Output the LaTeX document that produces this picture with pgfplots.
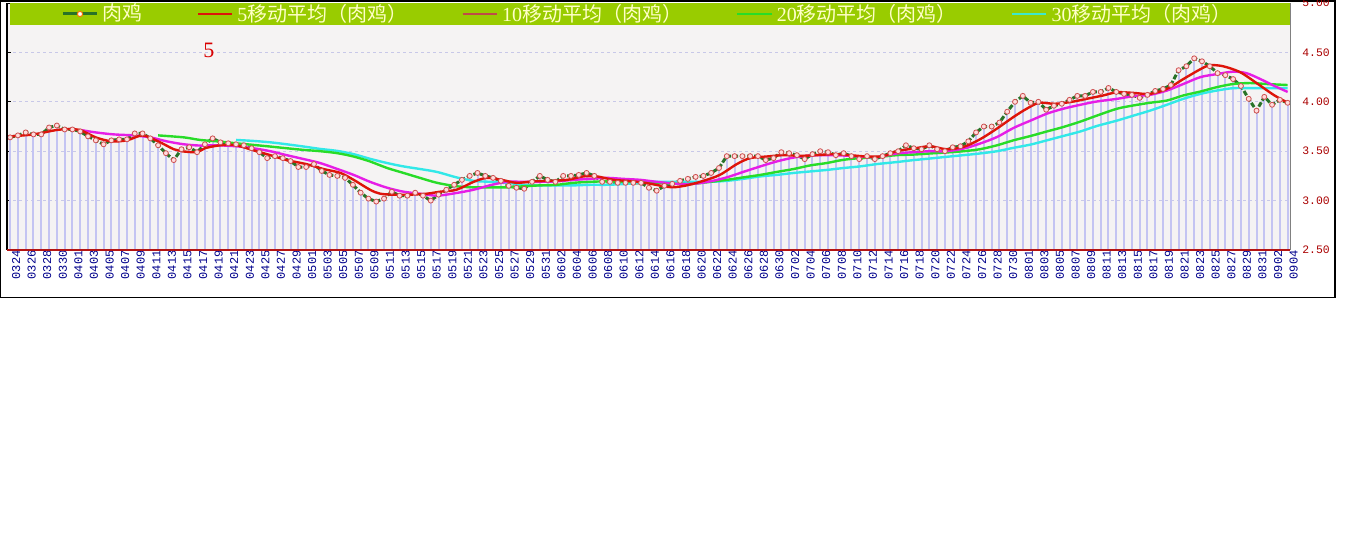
\documentclass[border=0pt]{standalone}
\usepackage{fontspec}
\setmainfont{Liberation Serif}
\setmonofont{Liberation Mono}
\newfontfamily\cjk{Noto Sans CJK SC}
\usepackage{pgfplots}
\pgfplotsset{compat=1.18}
\usepackage{pgfplotstable}

\definecolor{paper}{RGB}{245,243,243}
\definecolor{barc}{RGB}{196,196,242}
\definecolor{gridc}{RGB}{200,200,232}
\definecolor{pricegreen}{RGB}{40,115,40}
\definecolor{markfill}{RGB}{255,220,220}
\definecolor{markdraw}{RGB}{205,80,80}
\definecolor{mafive}{RGB}{222,20,10}
\definecolor{maten}{RGB}{230,30,230}
\definecolor{matwenty}{RGB}{40,220,40}
\definecolor{mathirty}{RGB}{50,232,232}
\definecolor{legband}{RGB}{153,204,0}
\definecolor{legtext}{RGB}{255,255,200}
\definecolor{legten}{RGB}{190,75,72}
\definecolor{legthirty}{RGB}{60,232,205}
\definecolor{ylab}{RGB}{170,0,0}
\definecolor{xlab}{RGB}{0,0,140}
\definecolor{tickred}{RGB}{180,20,20}

% daily price, index 0 = 0324
\pgfplotstableread{
i p
0 3.64
1 3.66
2 3.69
3 3.67
4 3.67
5 3.74
6 3.76
7 3.72
8 3.72
9 3.70
10 3.65
11 3.61
12 3.57
13 3.61
14 3.62
15 3.62
16 3.68
17 3.68
18 3.63
19 3.56
20 3.48
21 3.41
22 3.52
23 3.54
24 3.49
25 3.57
26 3.63
27 3.59
28 3.58
29 3.57
30 3.56
31 3.53
32 3.49
33 3.43
34 3.45
35 3.43
36 3.40
37 3.34
38 3.34
39 3.37
40 3.30
41 3.26
42 3.25
43 3.23
44 3.16
45 3.08
46 3.02
47 2.99
48 3.02
49 3.09
50 3.05
51 3.05
52 3.08
53 3.05
54 3.00
55 3.06
56 3.11
57 3.16
58 3.21
59 3.25
60 3.28
61 3.25
62 3.23
63 3.20
64 3.15
65 3.13
66 3.12
67 3.19
68 3.25
69 3.21
70 3.19
71 3.25
72 3.25
73 3.26
74 3.28
75 3.25
76 3.19
77 3.19
78 3.18
79 3.18
80 3.18
81 3.18
82 3.13
83 3.10
84 3.15
85 3.17
86 3.20
87 3.22
88 3.24
89 3.25
90 3.28
91 3.33
92 3.45
93 3.45
94 3.45
95 3.45
96 3.45
97 3.41
98 3.43
99 3.49
100 3.48
101 3.46
102 3.42
103 3.47
104 3.50
105 3.49
106 3.46
107 3.48
108 3.45
109 3.42
110 3.45
111 3.42
112 3.45
113 3.48
114 3.50
115 3.56
116 3.53
117 3.52
118 3.56
119 3.52
120 3.50
121 3.54
122 3.55
123 3.60
124 3.69
125 3.75
126 3.75
127 3.79
128 3.90
129 4.00
130 4.06
131 3.99
132 4.00
133 3.92
134 3.96
135 3.98
136 4.02
137 4.06
138 4.06
139 4.10
140 4.10
141 4.14
142 4.10
143 4.08
144 4.07
145 4.04
146 4.07
147 4.11
148 4.13
149 4.17
150 4.32
151 4.36
152 4.44
153 4.41
154 4.36
155 4.29
156 4.27
157 4.23
158 4.16
159 4.03
160 3.91
161 4.05
162 3.97
163 4.02
164 3.99
}\price

% moving averages
\pgfplotstableread{
i v
0 3.65
3 3.67
6 3.715
8 3.725
9 3.715
11 3.64
13 3.60
15 3.61
17 3.66
19 3.60
21 3.52
22 3.50
24 3.49
25 3.53
27 3.56
29 3.56
31.2 3.51
33.4 3.46
35.5 3.41
38 3.37
40.2 3.32
42.4 3.28
44.1 3.21
46.2 3.11
47.5 3.07
49.2 3.06
51.3 3.06
53.5 3.07
55.2 3.09
57.3 3.11
59.5 3.19
61.2 3.23
63.1 3.21
65 3.18
67.2 3.195
69.3 3.20
71.5 3.21
73.6 3.245
75.3 3.245
77.5 3.21
80 3.195
82.2 3.17
83.9 3.145
85.2 3.135
86.9 3.155
89 3.20
91.1 3.26
93.3 3.37
95 3.43
97.1 3.446
99.3 3.46
101.4 3.453
103.5 3.46
105.7 3.47
107.8 3.46
110 3.446
112.1 3.45
113.8 3.50
116 3.527
118.1 3.55
120.2 3.52
122.4 3.544
124.5 3.62
126.7 3.73
128.8 3.846
130.5 3.93
132.1 3.99
134.1 3.98
136.3 4.00
138.2 4.03
140.3 4.064
142.1 4.097
144.2 4.09
146.3 4.08
148.5 4.13
150.6 4.23
152.8 4.33
154.0 4.37
155.7 4.36
157.9 4.30
160 4.19
162.2 4.07
164 3.99
}\mafivet

\pgfplotstableread{
i v
9 3.715
11 3.69
13.3 3.67
15.8 3.66
18 3.64
20.1 3.60
22.3 3.57
24.4 3.557
26.5 3.56
29 3.55
31.2 3.53
33.4 3.50
35.5 3.46
37.7 3.42
39.8 3.38
42 3.32
44.1 3.26
46.2 3.19
48.4 3.13
50.5 3.09
52.6 3.07
54.8 3.05
57.3 3.077
59.5 3.11
61.6 3.155
63.8 3.19
65.9 3.19
68 3.19
70.2 3.195
72.3 3.21
74.5 3.22
76.6 3.23
78.7 3.22
80.9 3.21
83 3.19
85.6 3.17
87.7 3.17
89.9 3.195
92 3.235
94.1 3.29
96.3 3.346
98.4 3.396
100.6 3.436
102.7 3.456
104.8 3.46
107 3.456
109.1 3.446
111.3 3.44
113.8 3.477
116 3.49
118.1 3.50
120.2 3.50
122.4 3.527
124.5 3.577
126.7 3.644
128.8 3.735
131 3.81
133.1 3.88
135.2 3.93
137.4 3.97
139.5 4.003
142.1 4.03
144.2 4.057
146.3 4.07
148.5 4.114
150.6 4.18
152.8 4.25
154.9 4.28
157 4.305
158.7 4.29
160.5 4.23
162.2 4.164
164 4.10
}\matent

\pgfplotstableread{
i v
19 3.66
22.3 3.64
24.4 3.614
27 3.597
29 3.58
31.2 3.564
33.4 3.547
35.5 3.53
37.7 3.513
39.8 3.50
42 3.48
44.1 3.446
46.2 3.396
48.4 3.33
50.5 3.28
52.6 3.23
54.8 3.18
57.3 3.145
59.5 3.134
61.6 3.134
63.8 3.134
65.9 3.145
68 3.154
70.2 3.16
72.3 3.18
74.5 3.19
76.6 3.195
78.7 3.19
80.9 3.19
83 3.18
85.6 3.17
87.7 3.17
89.9 3.19
92 3.21
94.1 3.235
96.3 3.26
98.4 3.29
100.6 3.32
102.7 3.356
104.8 3.38
107 3.413
109.1 3.43
111.3 3.44
113.8 3.46
116 3.466
118.1 3.477
120.2 3.487
122.4 3.50
124.5 3.52
126.7 3.56
128.8 3.61
131 3.654
133.1 3.70
135.2 3.745
137.4 3.80
139.5 3.86
142.1 3.93
144.2 3.963
146.3 3.99
148.5 4.013
150.6 4.064
152.8 4.104
154.9 4.148
157 4.18
159.2 4.19
161.3 4.18
164 4.17
}\matwentyt

\pgfplotstableread{
i v
29 3.614
31.2 3.604
33.4 3.59
35.5 3.57
37.7 3.547
39.8 3.523
42 3.503
44.1 3.47
46.2 3.423
48.4 3.38
50.5 3.346
52.6 3.32
54.8 3.29
57.3 3.235
59.5 3.20
61.6 3.19
63.8 3.18
65.9 3.16
68 3.154
70.2 3.154
72.3 3.154
74.5 3.16
76.6 3.16
78.7 3.167
80.9 3.18
83 3.19
85.6 3.19
87.7 3.19
89.9 3.19
92 3.20
94.1 3.22
96.3 3.245
98.4 3.26
100.6 3.28
102.7 3.295
104.8 3.31
107 3.33
109.1 3.346
111.3 3.37
113.8 3.39
116 3.41
118.1 3.426
120.2 3.443
122.4 3.46
124.5 3.477
126.7 3.50
128.8 3.534
131 3.567
133.1 3.61
135.2 3.654
137.4 3.70
139.5 3.755
142.1 3.81
144.2 3.86
146.3 3.91
148.5 3.97
150.6 4.03
152.8 4.08
154.9 4.114
157 4.138
159.2 4.138
161.3 4.138
164 4.138
}\mathirtyt

\begin{document}
\begin{tikzpicture}
\useasboundingbox (0,0) rectangle (673pt,270.5pt);
\fill[white] (0,0) rectangle (673pt,270.5pt);
\draw[black, line width=0.7pt] (0.35pt,270pt) rectangle (667.5pt,121.75pt);
\begin{axis}[
    at={(3.5pt,145.5pt)}, anchor=south west,
    scale only axis, width=641.5pt, height=123.5pt,
    xmin=-0.4, xmax=164.3,
    ymin=2.5, ymax=5,
    clip mode=individual,
    axis background/.style={fill=paper},
    axis line style={draw=none},
    tick align=inside,
    major tick length=2pt,
    xtick={0,2,...,164},
    xticklabels={0324,0326,0328,0330,
      0401,0403,0405,0407,0409,0411,0413,0415,0417,0419,0421,0423,0425,0427,0429,
      0501,0503,0505,0507,0509,0511,0513,0515,0517,0519,0521,0523,0525,0527,0529,0531,
      0602,0604,0606,0608,0610,0612,0614,0616,0618,0620,0622,0624,0626,0628,0630,
      0702,0704,0706,0708,0710,0712,0714,0716,0718,0720,0722,0724,0726,0728,0730,
      0801,0803,0805,0807,0809,0811,0813,0815,0817,0819,0821,0823,0825,0827,0829,0831,
      0902,0904},
    xtick pos=bottom,
    xtick style={draw=tickred, line width=0.6pt},
    xticklabel style={rotate=90, anchor=east, inner sep=0pt, yshift=-3pt,
      font=\ttfamily\fontsize{6}{7}\selectfont, text=xlab},
    ytick={2.5,3,3.5,4,4.5,5},
    yticklabels={2.50,3.00,3.50,4.00,4.50,5.00},
    ytick pos=left,
    yticklabel pos=right,
    ytick style={draw=black, line width=0.5pt},
    yticklabel style={anchor=west, inner sep=0pt, xshift=6pt,
      font=\ttfamily\fontsize{5.7}{6}\selectfont, text=ylab},
    ymajorgrids,
    grid style={draw=gridc, line width=0.4pt, dash pattern=on 1.5pt off 1.5pt},
    legend style={at={(0.5,0.9555)}, anchor=center, draw=none, fill=none,
      legend columns=5, font=\fontsize{10}{11}\selectfont, text=legtext,
      inner sep=0pt,
      /tikz/every even column/.append style={column sep=25pt}},
    legend cell align=left,
]
% legend images
\addlegendimage{draw=pricegreen, line width=1.5pt, mark=*, mark size=1.3pt,
  mark options={fill=white, draw=orange!90!red, line width=0.5pt}}
\addlegendimage{draw=mafive, line width=1.3pt}
\addlegendimage{draw=legten, line width=1.3pt}
\addlegendimage{draw=matwenty, line width=1.3pt}
\addlegendimage{draw=legthirty, line width=1.3pt}

% bars
\addplot[ycomb, draw=barc, line width=1pt, forget plot] table[x=i, y=p] {\price};
% price line
\addplot[draw=pricegreen, line width=1.5pt, dash pattern=on 2.5pt off 1pt, forget plot]
  table[x=i, y=p] {\price};
% moving averages
\addplot[smooth, draw=mathirty, line width=1.2pt, forget plot] table[x=i, y=v] {\mathirtyt};
\addplot[smooth, draw=matwenty, line width=1.2pt, forget plot] table[x=i, y=v] {\matwentyt};
\addplot[smooth, draw=maten, line width=1.2pt, forget plot] table[x=i, y=v] {\matent};
\addplot[smooth, draw=mafive, line width=1.2pt, forget plot] table[x=i, y=v] {\mafivet};
% price marks
\addplot[only marks, mark=*, mark size=1.25pt,
  mark options={fill=markfill, draw=markdraw, line width=0.4pt}, forget plot]
  table[x=i, y=p] {\price};

% frame
\draw[black, line width=0.6pt] (rel axis cs:0,0) -- (rel axis cs:0,1);
\draw[tickred, line width=0.6pt] (rel axis cs:0,0) -- (rel axis cs:1,0);
\draw[gray, line width=0.5pt] (rel axis cs:1,0) -- (rel axis cs:1,1);
% legend band
\fill[legband] (rel axis cs:0.0023,0.911) rectangle (rel axis cs:1,1);

\node[text=red!85!black, font=\fontsize{11}{12}\selectfont] at (axis cs:25.5,4.52) {5};

\addlegendentry{{\cjk 肉鸡}}
\addlegendentry{5{\cjk 移动平均（肉鸡）}}
\addlegendentry{10{\cjk 移动平均（肉鸡）}}
\addlegendentry{20{\cjk 移动平均（肉鸡）}}
\addlegendentry{30{\cjk 移动平均（肉鸡）}}
\end{axis}
\end{tikzpicture}
\end{document}
